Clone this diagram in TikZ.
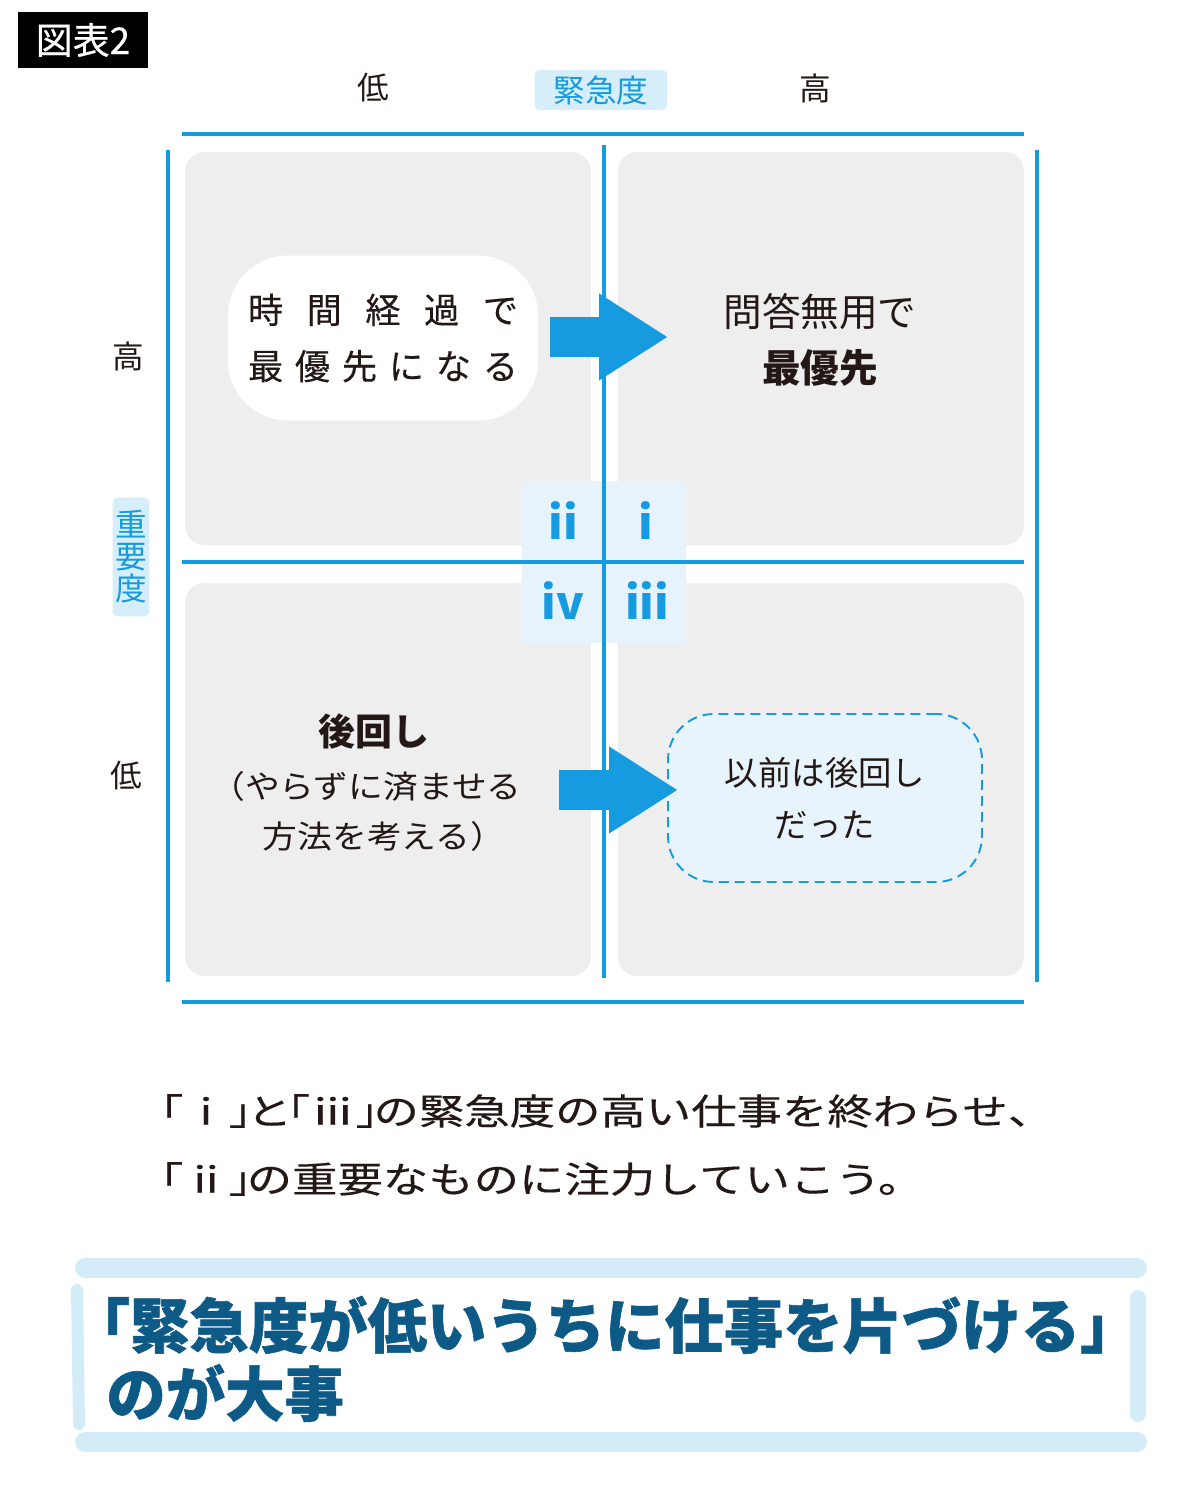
\documentclass[tikz,border=0pt]{standalone}
\usepackage{fontspec}
\usepackage{xcolor}
\usepackage{tikz}
\usetikzlibrary{arrows.meta}
\setmainfont{Noto Sans CJK JP}
\newcommand{\fsz}[1]{\fontsize{#1}{#1}\selectfont}
\newcommand{\lbr}{\makebox[0.5em][r]{「}}
\newcommand{\rbr}{\makebox[0.5em][l]{」}}
\definecolor{axisblue}{HTML}{179BE0}
\definecolor{tagblue}{HTML}{D6EEFA}
\definecolor{centerblue}{HTML}{E6F3FC}
\definecolor{quadgray}{HTML}{EEEEEE}
\definecolor{dashfill}{HTML}{E8F4FC}
\definecolor{barblue}{HTML}{D4EBF8}
\definecolor{bannertext}{HTML}{0E5A87}
\definecolor{inkblack}{HTML}{231815}

\begin{document}
\begin{tikzpicture}[x=0.02cm, y=-0.02cm, text=inkblack,
    axis/.style={draw=axisblue, line width=2.3pt},
    quad/.style={fill=quadgray, rounded corners=11pt},
    tag/.style={fill=tagblue, text=axisblue, rounded corners=3pt, inner sep=0pt},
    numeral/.style={text=axisblue, font=\bfseries\fsz{26}},
    label/.style={font=\fsz{18}},
    note/.style={anchor=west, inner sep=0pt, font=\fsz{20.5}\addfontfeature{FakeStretch=1.26,FakeBold=0.3}},
    motto/.style={anchor=west, inner sep=0pt, text=bannertext, font=\bfseries\fsz{33.8}\addfontfeature{FakeBold=1}},
    bigarrow/.style={draw=axisblue, line width=0.8cm, -{Triangle[length=1.38cm, width=1.64cm]}},
    bar/.style={draw=barblue, line cap=round},
  ]
  \useasboundingbox (0,0) rectangle (1200,1500);

  % Title
  \node[fill=black, text=white, font=\fsz{21}\addfontfeature{FakeBold=0.6}, minimum width=2.6cm, minimum height=1.12cm, inner sep=0pt] (title) at (83,40) {図表2};

  % Quadrants
  \foreach \x/\y in {185/152, 618/152, 185/583, 618/583} {
    \fill[quad] (\x,\y) rectangle ++(406,393);
  }
  \fill[centerblue] (522,481) rectangle (686,643);

  % Axes
  \foreach \a/\b/\c/\d in {182/134/1024/134, 182/1002/1024/1002, 168/150/168/982,
                           1037/150/1037/982, 604/145/604/978, 182/562/1024/562} {
    \draw[axis] (\a,\b) -- (\c,\d);
  }

  % Axis labels
  \node[label] (ulow) at (373,88) {低};
  \node[tag, minimum width=2.66cm, minimum height=0.8cm, font=\fsz{18}] (urgency) at (601,90) {緊急度};
  \node[label] (uhigh) at (815,88) {高};
  \node[label] (ihigh) at (128,356) {高};
  \node[tag, minimum width=0.74cm, minimum height=2.38cm, align=center, font=\fontsize{18}{18.2}\selectfont] (importance) at (131,557) {重\\要\\度};
  \node[label] (ilow) at (126,776) {低};

  % Numerals
  \foreach \n/\x/\y in {ii/563/521, i/646/521, iv/563/601, iii/647/601} {
    \node[numeral] (q\n) at (\x,\y) {\n};
  }

  % Quadrant texts
  \node[fill=white, rounded corners=34pt, minimum width=6.2cm, minimum height=3.3cm, align=center, font=\fontsize{20}{32}\selectfont\addfontfeature{FakeBold=0.3}] (shift) at (383,338)
    {\makebox[5.4cm][s]{時\hfil 間\hfil 経\hfil 過\hfil で}\\\makebox[5.4cm][s]{最\hfil 優\hfil 先\hfil に\hfil な\hfil る}};
  \node[align=center, font=\fontsize{22}{32}\selectfont] (first) at (820,340) {問答無用で\\\textbf{最優先}};
  \node[font=\bfseries\fsz{21}] (later) at (374,731) {後回し};
  \node[font=\fsz{18}\addfontfeature{FakeStretch=1.1}] (later1) at (366,786) {（やらずに済ませる};
  \node[font=\fsz{18}\addfontfeature{FakeStretch=1.1}] (later2) at (384,836) {方法を考える）};
  \node[draw=axisblue, dash pattern=on 5.7pt off 3.4pt, line width=1.1pt, fill=dashfill, rounded corners=26pt,
        minimum width=6.28cm, minimum height=3.36cm, align=center, font=\fontsize{19}{29.5}\selectfont] (before) at (825,798) {以前は後回し\\だった};

  % Arrows
  \coordinate (a1s) at (550,337);
  \coordinate (a1e) at (668,337);
  \coordinate (a2s) at (559,790);
  \coordinate (a2e) at (678,790);
  \draw[bigarrow] (a1s) -- (a1e);
  \draw[bigarrow] (a2s) -- (a2e);

  % Note
  \node[note] (note1) at (165,1111) {\lbr ⅰ\rbr と\lbr ⅲ\rbr の緊急度の高い仕事を終わらせ、};
  \node[note] (note2) at (165,1179) {\lbr ⅱ\rbr の重要なものに注力していこう。};

  % Banner
  \draw[bar, line width=0.4cm] (85,1268) -- (1137,1268);
  \draw[bar, line width=0.4cm] (85,1442) -- (1137,1442);
  \draw[bar, line width=0.24cm] (77,1290) -- (79,1424);
  \draw[bar, line width=0.32cm] (1138,1298) -- (1138,1414);
  \node[motto] (motto1) at (100,1325) {\lbr 緊急度が低いうちに仕事を片づける\rbr};
  \node[motto] (motto2) at (106,1393) {のが大事};
\end{tikzpicture}
\end{document}
